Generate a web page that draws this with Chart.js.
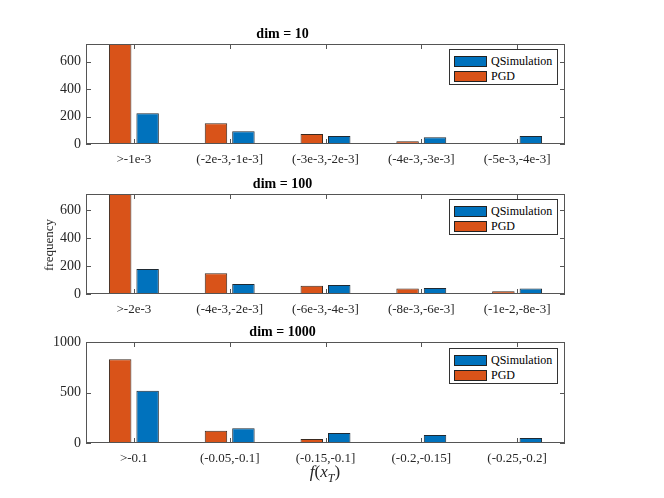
<!DOCTYPE html>
<html>
<head>
<meta charset="utf-8">
<script src="https://cdn.jsdelivr.net/npm/chart.js@4.4.0/dist/chart.umd.min.js"></script>
<style>
  body { margin:0; background:#fff; width:664px; height:498px; position:relative; overflow:hidden; font-family:"Liberation Serif", serif; }
  .cv { position:absolute; left:0; width:664px; }
  .legend { position:absolute; left:449px; width:107px; height:34px; border:1px solid #333; background:#fff; font-size:12px; color:#000; }
  .legend .row { position:absolute; left:4px; height:12px; line-height:12px; }
  .legend .sw { position:absolute; left:0; top:1px; width:31px; height:9px; border:1px solid #222; }
  .legend .tx { position:absolute; left:37px; top:0; white-space:nowrap; }
  #ylab { position:absolute; left:49px; top:245px; font-size:13px; color:#262626; transform:translate(-50%,-50%) rotate(-90deg); white-space:nowrap; }
  #xlab { position:absolute; left:325px; top:474px; font-size:17px; color:#262626; transform:translate(-50%,-50%); white-space:nowrap; font-style:italic; }
  #xlab span { font-style:normal; }
</style>
</head>
<body>
<canvas id="c10" class="cv" style="top:18px;height:156px" width="664" height="156"></canvas>
<canvas id="c100" class="cv" style="top:168px;height:156px" width="664" height="156"></canvas>
<canvas id="c1000" class="cv" style="top:316px;height:157px" width="664" height="157"></canvas>
<div id="ylab">frequency</div>
<div id="xlab">f<span>(</span>x<sub style="font-size:12px">T</sub><span>)</span></div>
<script>
// --- data ---
const labels10 = ['>-1e-3','(-2e-3,-1e-3]','(-3e-3,-2e-3]','(-4e-3,-3e-3]','(-5e-3,-4e-3]'];
const pgd10 = [780, 151, 73, 20, 7];
const qs10 = [224, 93, 58, 49, 58];

const labels100 = ['>-2e-3','(-4e-3,-2e-3]','(-6e-3,-4e-3]','(-8e-3,-6e-3]','(-1e-2,-8e-3]'];
const pgd100 = [770, 148, 59, 40, 19];
const qs100 = [179, 71, 64, 43, 40];

const labels1000 = ['>-0.1','(-0.05,-0.1]','(-0.15,-0.1]','(-0.2,-0.15]','(-0.25,-0.2]'];
const pgd1000 = [828, 122, 40, 10, 1];
const qs1000 = [518, 145, 99, 79, 50];

const yTicks10 = [0, 200, 400, 600];
const yTicks100 = [0, 200, 400, 600];
const yTicks1000 = [0, 500, 1000];

const ORANGE = '#D95319', BLUE = '#0072BD';

// matlab-style box with inward ticks
const boxPlugin = {
  id: 'box',
  afterDatasetsDraw(chart) {
    const {ctx, chartArea: a, scales} = chart;
    ctx.save();
    ctx.strokeStyle = '#555';
    ctx.lineWidth = 1;
    ctx.beginPath();
    scales.y.ticks.forEach(t => {
      const y = Math.round(scales.y.getPixelForValue(t.value)) + 0.5;
      ctx.moveTo(a.left, y); ctx.lineTo(a.left + 5, y);
      ctx.moveTo(a.right, y); ctx.lineTo(a.right - 5, y);
    });
    scales.x.ticks.forEach((t, i) => {
      const x = Math.round(scales.x.getPixelForValue(i)) + 0.5;
      ctx.moveTo(x, a.top); ctx.lineTo(x, a.top + 5);
      ctx.moveTo(x, a.bottom); ctx.lineTo(x, a.bottom - 5);
    });
    ctx.stroke();
    ctx.strokeRect(Math.round(a.left) + 0.5, Math.round(a.top) + 0.5, Math.round(a.right - a.left) - 1, Math.round(a.bottom - a.top) - 1);
    ctx.restore();
  }
};

function makeChart(id, title, labels, pgd, qs, ymax, yticks) {
  return new Chart(document.getElementById(id), {
    type: 'bar',
    data: {
      labels: labels,
      datasets: [
        {label:'PGD', data:pgd, backgroundColor:ORANGE, borderColor:'#3a2a20', borderWidth:1, borderSkipped:'bottom'},
        {label:'QSimulation', data:qs, backgroundColor:BLUE, borderColor:'#1f2a33', borderWidth:1, borderSkipped:'bottom'}
      ]
    },
    options: {
      responsive:false, animation:false, devicePixelRatio:1,
      categoryPercentage:0.573, barPercentage:0.818,
      layout:{padding:{left:0, right:99, top:0, bottom:0}},
      plugins:{
        legend:{display:false}, tooltip:{enabled:false},
        title:{display:true, text:title, color:'#000', padding:{top:8,bottom:2},
          font:{family:'Liberation Serif', size:14, weight:'bold', lineHeight:'16px'}}
      },
      scales:{
        x:{
          grid:{display:false}, border:{display:false},
          ticks:{color:'#262626', padding:0, maxRotation:0, autoSkip:false, font:{family:'Liberation Serif', size:13}},
          afterFit(s){ s.height = 30; }
        },
        y:{
          min:0, max:ymax,
          grid:{display:false, drawTicks:false}, border:{display:false},
          afterBuildTicks(s){ s.ticks = yticks.map(v => ({value:v})); },
          ticks:{color:'#262626', padding:5, font:{family:'Liberation Serif', size:14}, callback:v => String(v)},
          afterFit(s){ s.width = 86; }
        }
      }
    },
    plugins:[boxPlugin]
  });
}

makeChart('c10', 'dim = 10', labels10, pgd10, qs10, 730, yTicks10);
makeChart('c100', 'dim = 100', labels100, pgd100, qs100, 715, yTicks100);
makeChart('c1000', 'dim = 1000', labels1000, pgd1000, qs1000, 1000, yTicks1000);

// legends
[49, 199, 348].forEach(top => {
  const lg = document.createElement('div');
  lg.className = 'legend';
  lg.style.top = top + 'px';
  lg.innerHTML =
    '<div class="row" style="top:5px"><div class="sw" style="background:' + BLUE + '"></div><div class="tx">QSimulation</div></div>' +
    '<div class="row" style="top:20px"><div class="sw" style="background:' + ORANGE + '"></div><div class="tx">PGD</div></div>';
  document.body.appendChild(lg);
});
</script>
</body>
</html>
